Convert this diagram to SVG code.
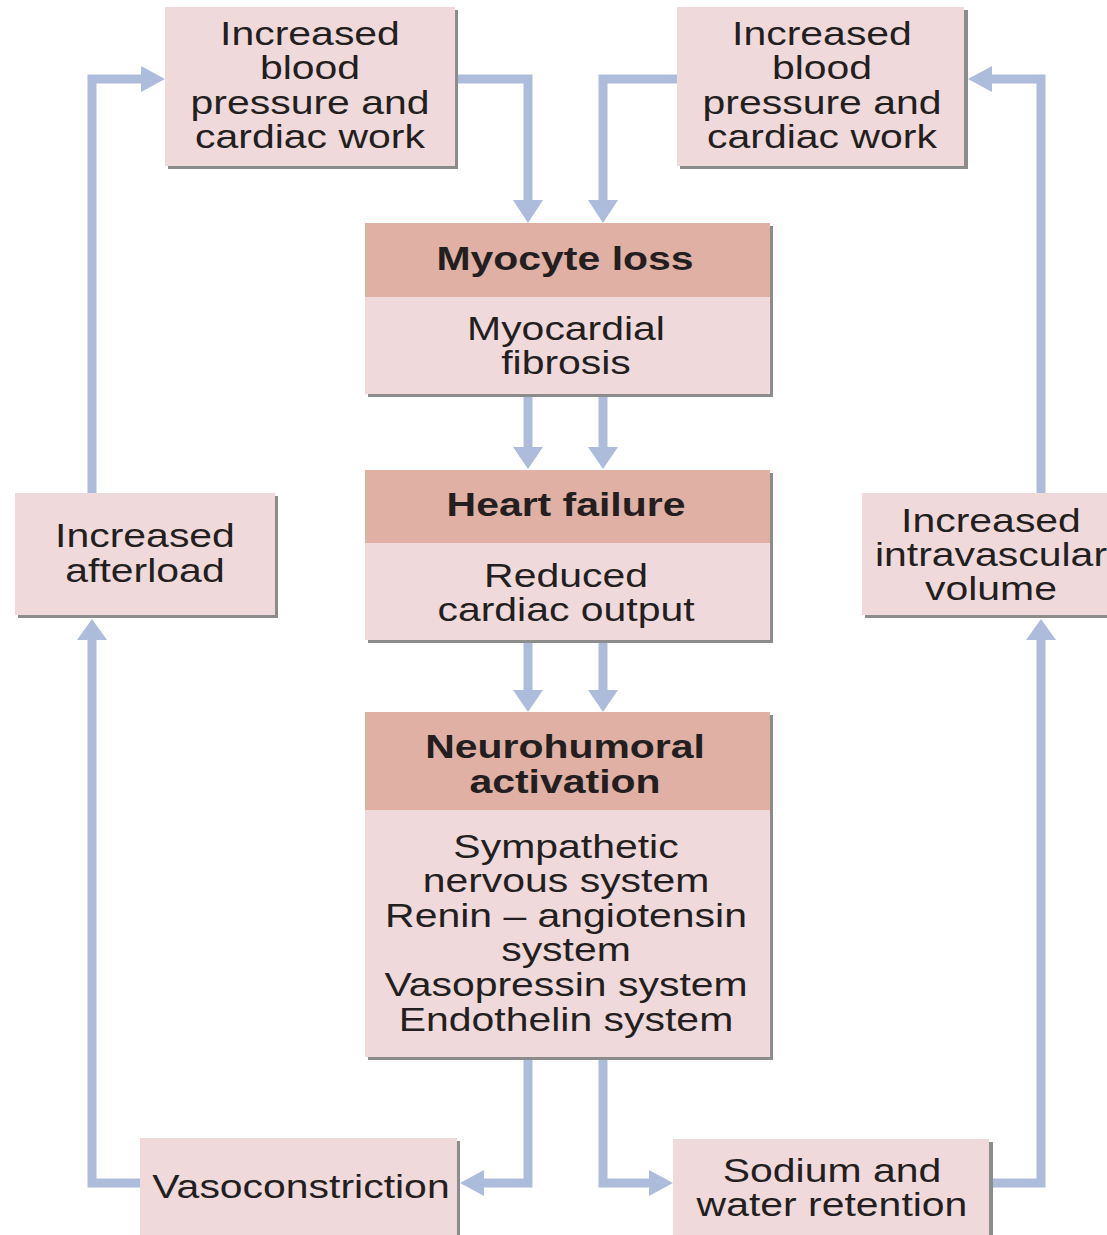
<svg xmlns="http://www.w3.org/2000/svg" width="1107" height="1235" viewBox="0 0 1107 1235">
<style>
.bg{fill:#ffffff}
.shadow{fill:#8c8c8c}
.box{fill:#f0d9db}
.head{fill:#e0b0a4}
.t{font-family:"Liberation Sans",Arial,Helvetica,sans-serif;font-size:32.5px;fill:#231f20;text-anchor:middle}
.b{font-weight:bold}
.ln{fill:none;stroke:#aebcdb;stroke-width:9;stroke-linejoin:miter}
.ah{fill:#aebcdb}
</style>
<rect class="bg" x="0" y="0" width="1107" height="1235"/>
<g id="connectors">
  <path class="ln" d="M92,493 V79 H143"/>
  <polygon class="ah" points="141,66 165,79 141,92"/>
  <path class="ln" d="M455,79 H528 V202"/>
  <polygon class="ah" points="513,200 543,200 528,223"/>
  <path class="ln" d="M677,79 H603 V202"/>
  <polygon class="ah" points="588,200 618,200 603,223"/>
  <path class="ln" d="M1041,493 V79 H990"/>
  <polygon class="ah" points="992,66 968,79 992,92"/>
  <path class="ln" d="M528,397 V449"/>
  <polygon class="ah" points="513,447 543,447 528,469"/>
  <path class="ln" d="M603,397 V449"/>
  <polygon class="ah" points="588,447 618,447 603,469"/>
  <path class="ln" d="M528,643 V692"/>
  <polygon class="ah" points="513,690 543,690 528,712"/>
  <path class="ln" d="M603,643 V692"/>
  <polygon class="ah" points="588,690 618,690 603,712"/>
  <path class="ln" d="M528,1060 V1183 H482"/>
  <polygon class="ah" points="484,1170 460,1183 484,1196"/>
  <path class="ln" d="M603,1060 V1183 H651"/>
  <polygon class="ah" points="649,1170 673,1183 649,1196"/>
  <path class="ln" d="M140,1183 H92 V638"/>
  <polygon class="ah" points="77,640 107,640 92,619"/>
  <path class="ln" d="M993,1183 H1041 V638"/>
  <polygon class="ah" points="1026,640 1056,640 1041,619"/>
</g>
<g id="node-bp-left">
  <rect class="shadow" x="168" y="10" width="290" height="159"/>
  <rect class="box" x="165" y="7" width="290" height="159"/>
  <text class="t" transform="translate(310,0) scale(1.26,1)"><tspan x="0" y="45">Increased</tspan><tspan x="0" y="79.5">blood</tspan><tspan x="0" y="114">pressure and</tspan><tspan x="0" y="148.5">cardiac work</tspan></text>
</g>
<g id="node-bp-right">
  <rect class="shadow" x="680" y="10" width="288" height="159"/>
  <rect class="box" x="677" y="7" width="287" height="159"/>
  <text class="t" transform="translate(822,0) scale(1.26,1)"><tspan x="0" y="45">Increased</tspan><tspan x="0" y="79.5">blood</tspan><tspan x="0" y="114">pressure and</tspan><tspan x="0" y="148.5">cardiac work</tspan></text>
</g>
<g id="node-myocyte">
  <rect class="shadow" x="368" y="226" width="405" height="171"/>
  <rect class="box" x="365" y="223" width="405" height="171"/>
  <rect class="head" x="365" y="223" width="405" height="74"/>
  <text class="t b" transform="translate(565,0) scale(1.26,1)"><tspan x="0" y="270">Myocyte loss</tspan></text>
  <text class="t" transform="translate(566,0) scale(1.26,1)"><tspan x="0" y="340">Myocardial</tspan><tspan x="0" y="374">fibrosis</tspan></text>
</g>
<g id="node-heart-failure">
  <rect class="shadow" x="368" y="473" width="405" height="170"/>
  <rect class="box" x="365" y="470" width="405" height="170"/>
  <rect class="head" x="365" y="470" width="405" height="73"/>
  <text class="t b" transform="translate(566,0) scale(1.26,1)"><tspan x="0" y="516">Heart failure</tspan></text>
  <text class="t" transform="translate(566,0) scale(1.26,1)"><tspan x="0" y="587">Reduced</tspan><tspan x="0" y="621">cardiac output</tspan></text>
</g>
<g id="node-neurohumoral">
  <rect class="shadow" x="368" y="715" width="405" height="345"/>
  <rect class="box" x="365" y="712" width="405" height="345"/>
  <rect class="head" x="365" y="712" width="405" height="98"/>
  <text class="t b" transform="translate(565,0) scale(1.26,1)"><tspan x="0" y="758">Neurohumoral</tspan><tspan x="0" y="793">activation</tspan></text>
  <text class="t" transform="translate(566,0) scale(1.26,1)"><tspan x="0" y="858">Sympathetic</tspan><tspan x="0" y="892.5">nervous system</tspan><tspan x="0" y="927">Renin – angiotensin</tspan><tspan x="0" y="961.5">system</tspan><tspan x="0" y="996">Vasopressin system</tspan><tspan x="0" y="1031">Endothelin system</tspan></text>
</g>
<g id="node-afterload">
  <rect class="shadow" x="18" y="496" width="260" height="122"/>
  <rect class="box" x="15" y="493" width="260" height="122"/>
  <text class="t" transform="translate(145,0) scale(1.26,1)"><tspan x="0" y="547">Increased</tspan><tspan x="0" y="582">afterload</tspan></text>
</g>
<g id="node-intravascular">
  <rect class="shadow" x="865" y="496" width="260" height="122"/>
  <rect class="box" x="862" y="493" width="260" height="122"/>
  <text class="t" transform="translate(991,0) scale(1.26,1)"><tspan x="0" y="532">Increased</tspan><tspan x="0" y="566">intravascular</tspan><tspan x="0" y="600">volume</tspan></text>
</g>
<g id="node-vasoconstriction">
  <rect class="shadow" x="143" y="1141" width="317" height="100"/>
  <rect class="box" x="140" y="1138" width="317" height="100"/>
  <text class="t" transform="translate(301,0) scale(1.26,1)"><tspan x="0" y="1198">Vasoconstriction</tspan></text>
</g>
<g id="node-sodium">
  <rect class="shadow" x="676" y="1142" width="317" height="100"/>
  <rect class="box" x="673" y="1139" width="316" height="100"/>
  <text class="t" transform="translate(832,0) scale(1.26,1)"><tspan x="0" y="1182">Sodium and</tspan><tspan x="0" y="1216">water retention</tspan></text>
</g>
</svg>
